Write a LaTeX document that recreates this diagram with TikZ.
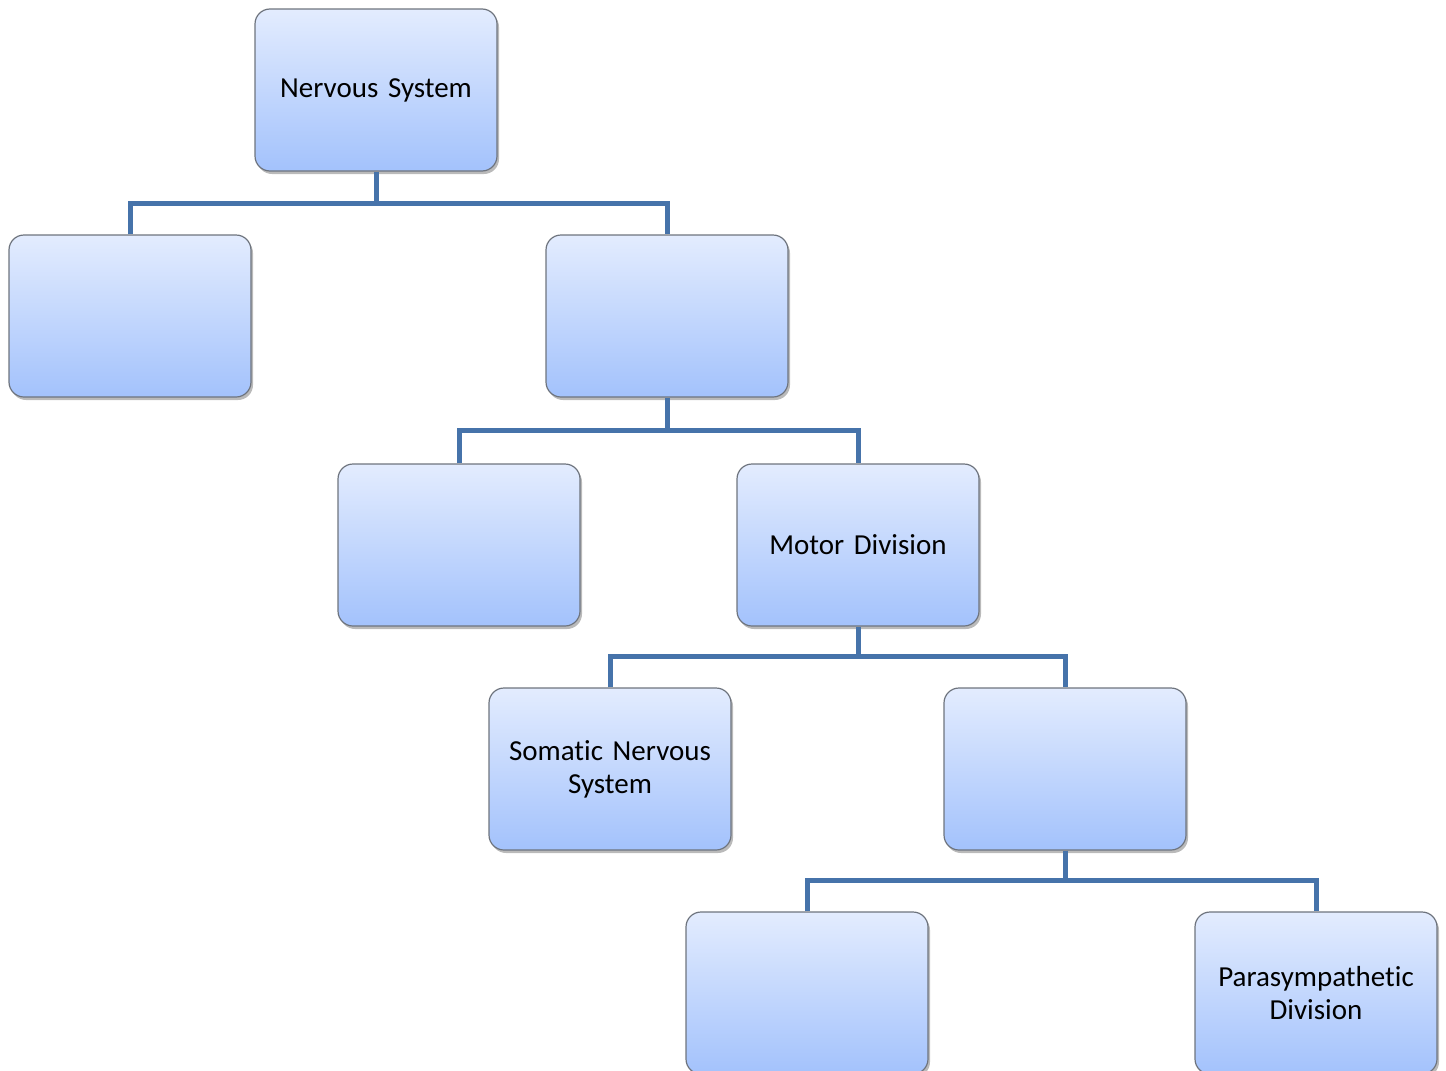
\documentclass[tikz,border=0pt]{standalone}
\usepackage{fontspec}
\setmainfont{Carlito}[Ligatures={NoCommon}]
\usetikzlibrary{shadows}
\definecolor{linkblue}{HTML}{4673AA}
\definecolor{boxtop}{HTML}{E3ECFE}
\definecolor{boxbot}{HTML}{A3C2FC}
\definecolor{boxedge}{HTML}{6E747E}
\tikzset{
  box/.style={draw=boxedge, line width=1.2pt, rounded corners=15pt,
    top color=boxtop, bottom color=boxbot,
    minimum width=242pt, minimum height=162pt, inner sep=0pt,
    align=center, text width=238pt,
    font=\fontsize{29}{33}\selectfont,
    drop shadow={shadow xshift=2pt, shadow yshift=-3pt, opacity=0.45, fill=black!60}},
  link/.style={draw=linkblue, line width=5pt}
}
\begin{document}
\begin{tikzpicture}[x=1pt,y=-1pt]
\useasboundingbox (0,0) rectangle (1446,1071);
\clip (0,0) rectangle (1446,1071);
\node[box] (ns) at (376,90) {Nervous System};
\node[box] (b2) at (130,316) {};
\node[box] (b3) at (667,316) {};
\node[box] (b4) at (459,545) {};
\node[box] (md) at (858,545) {Motor Division};
\node[box] (sn) at (610,769) {Somatic Nervous\\System};
\node[box] (b7) at (1065,769) {};
\node[box] (b8) at (807,993) {};
\node[box] (pd) at (1316,993) {Parasympathetic\\Division};
\coordinate (j1) at (376,203);
\coordinate (j2) at (667,430);
\coordinate (j3) at (858,656);
\coordinate (j4) at (1065,880);
\path[link] (ns.south) -- (j1);
\path[link] (b2.north) |- (j1) -| (b3.north);
\path[link] (b3.south) -- (j2);
\path[link] (b4.north) |- (j2) -| (md.north);
\path[link] (md.south) -- (j3);
\path[link] (sn.north) |- (j3) -| (b7.north);
\path[link] (b7.south) -- (j4);
\path[link] (b8.north) |- (j4) -| (pd.north);
\end{tikzpicture}
\end{document}
